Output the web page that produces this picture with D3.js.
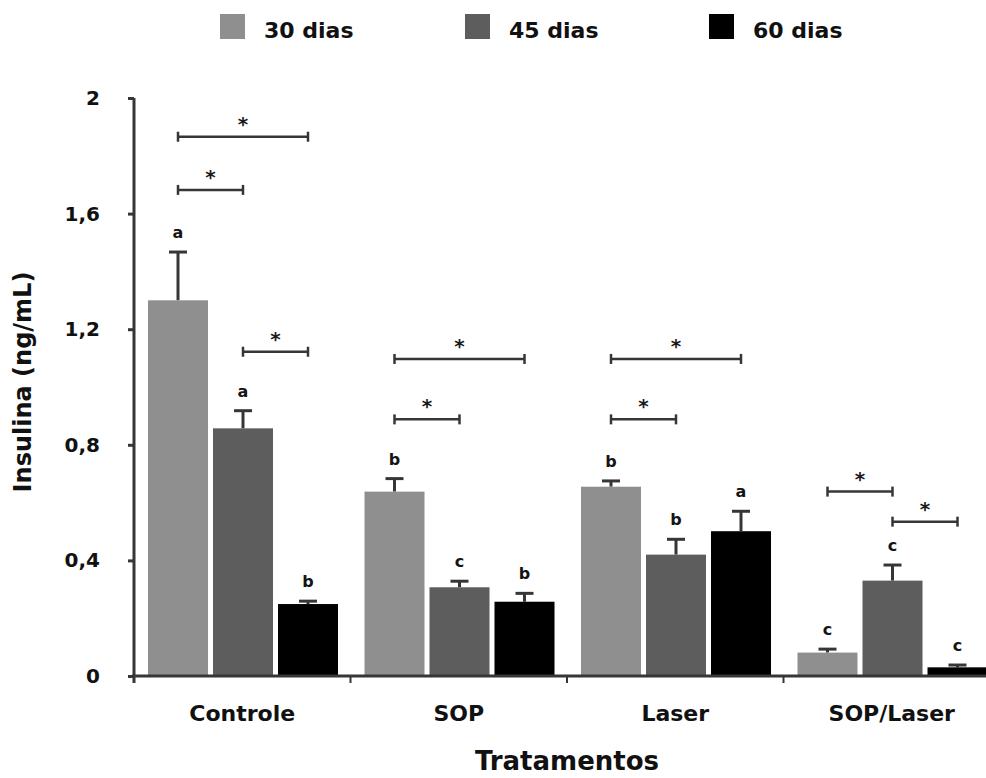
<!DOCTYPE html>
<html><head><meta charset="utf-8">
<script src="https://cdn.jsdelivr.net/npm/d3@7"></script>
<style>
html,body{margin:0;padding:0;background:#fff;}
text{font-family:"DejaVu Sans",sans-serif;font-weight:bold;}
</style></head>
<body><svg id="c" width="986" height="778"></svg>
<script>
const categories = ["Controle","SOP","Laser","SOP/Laser"];
const series = ["30 dias","45 dias","60 dias"];
const colors = ["#8f8f8f","#5d5d5d","#000000"];
const values30 = [1.30, 0.638, 0.655, 0.081];
const values45 = [0.857, 0.307, 0.420, 0.330];
const values60 = [0.249, 0.257, 0.501, 0.030];
const err30 = [0.167, 0.045, 0.020, 0.012];
const err45 = [0.061, 0.021, 0.053, 0.054];
const err60 = [0.010, 0.029, 0.069, 0.008];
const letters30 = ["a","b","b","c"];
const letters45 = ["a","c","b","c"];
const letters60 = ["b","b","a","c"];
const yTicks = [0,0.4,0.8,1.2,1.6,2];
const yTickLabels = ["0","0,4","0,8","1,2","1,6","2"];
// significance brackets: [category, from series index, to series index, level]
const brackets = [
  ["Controle",0,2,1.866],["Controle",0,1,1.682],["Controle",1,2,1.122],
  ["SOP",0,2,1.097],["SOP",0,1,0.888],
  ["Laser",0,2,1.097],["Laser",0,1,0.888],
  ["SOP/Laser",0,1,0.638],["SOP/Laser",1,2,0.534]
];

const vals = [values30, values45, values60];
const errs = [err30, err45, err60];
const lets = [letters30, letters45, letters60];

const svg = d3.select("#c");
const axisColor = "#363636";
const y = d3.scaleLinear().domain([0,2]).range([676,98]);
const x0 = d3.scaleBand().domain(categories).range([134,1000]).padding(0);
const x1 = d3.scaleBand().domain(series).range([14,204]).paddingInner(5/65).paddingOuter(0);

const data = [];
categories.forEach((c,i)=>series.forEach((s,j)=>data.push({c,s,j,v:vals[j][i],e:errs[j][i],l:lets[j][i]})));
const cx = d => x0(d.c)+x1(d.s)+x1.bandwidth()/2;

// error bars
const eg = svg.append("g").attr("stroke",axisColor).attr("stroke-width",3);
data.forEach(d=>{
  eg.append("line").attr("x1",cx(d)).attr("x2",cx(d)).attr("y1",y(d.v)).attr("y2",y(d.v+d.e));
  eg.append("line").attr("x1",cx(d)-9).attr("x2",cx(d)+9).attr("y1",y(d.v+d.e)).attr("y2",y(d.v+d.e));
});

svg.append("g").selectAll("rect").data(data).join("rect")
  .attr("x",d=>x0(d.c)+x1(d.s)).attr("width",x1.bandwidth())
  .attr("y",d=>y(d.v)).attr("height",d=>y(0)-y(d.v))
  .attr("fill",d=>colors[d.j]);

// letters
svg.append("g").selectAll("text").data(data).join("text")
  .attr("x",cx).attr("y",d=>y(d.v+d.e)-14)
  .attr("text-anchor","middle").attr("font-size",16).attr("fill","#151515")
  .text(d=>d.l);

// brackets
const bg = svg.append("g").attr("stroke",axisColor).attr("stroke-width",2.5);
brackets.forEach(([c,a,b,lev])=>{
  const xa = x0(c)+x1(series[a])+x1.bandwidth()/2;
  const xb = x0(c)+x1(series[b])+x1.bandwidth()/2;
  const yy = y(lev);
  bg.append("line").attr("x1",xa).attr("x2",xb).attr("y1",yy).attr("y2",yy);
  bg.append("line").attr("x1",xa).attr("x2",xa).attr("y1",yy-5).attr("y2",yy+5);
  bg.append("line").attr("x1",xb).attr("x2",xb).attr("y1",yy-5).attr("y2",yy+5);
  svg.append("text").attr("x",(xa+xb)/2).attr("y",yy-6).attr("text-anchor","middle")
    .attr("font-size",20).attr("fill","#1a1a1a").text("*");
});

// y axis
const yAxis = svg.append("g").attr("transform","translate(134,0)")
  .call(d3.axisLeft(y).tickValues(yTicks).tickFormat((d,i)=>yTickLabels[i]).tickSize(6).tickSizeOuter(0).tickPadding(28));
yAxis.select(".domain").attr("stroke",axisColor).attr("stroke-width",3).attr("d","M0,98V683");
yAxis.selectAll(".tick line").attr("stroke",axisColor).attr("stroke-width",3);
yAxis.selectAll(".tick text").attr("font-size",20).attr("fill","#111").style("font-family","DejaVu Sans, sans-serif").style("font-weight","bold");

// x axis
const xAxis = svg.append("g").attr("transform","translate(0,676)")
  .call(d3.axisBottom(x0).tickSize(0).tickPadding(29).tickSizeOuter(0));
xAxis.select(".domain").attr("stroke",axisColor).attr("stroke-width",3).attr("d","M132,0H986");
xAxis.selectAll(".tick text").attr("font-size",22).attr("fill","#111").style("font-family","DejaVu Sans, sans-serif").style("font-weight","bold");
svg.append("g").attr("stroke",axisColor).attr("stroke-width",2).selectAll("line")
  .data(categories.slice(0,3)).join("line")
  .attr("x1",d=>x0(d)+x0.bandwidth()).attr("x2",d=>x0(d)+x0.bandwidth())
  .attr("y1",676).attr("y2",683);

// axis titles
svg.append("text").attr("x",567).attr("y",770).attr("text-anchor","middle")
  .attr("font-size",26).attr("fill","#111").text("Tratamentos");
svg.append("text").attr("transform","translate(31,382) rotate(-90)").attr("text-anchor","middle")
  .attr("font-size",24).attr("fill","#111").text("Insulina (ng/mL)");

// legend
const legX = [220,465,709];
const lg = svg.append("g");
series.forEach((s,i)=>{
  lg.append("rect").attr("x",legX[i]).attr("y",14).attr("width",25).attr("height",25).attr("fill",colors[i]);
  lg.append("text").attr("x",legX[i]+44).attr("y",38).attr("font-size",22).attr("fill","#111").text(s);
});
</script></body></html>
